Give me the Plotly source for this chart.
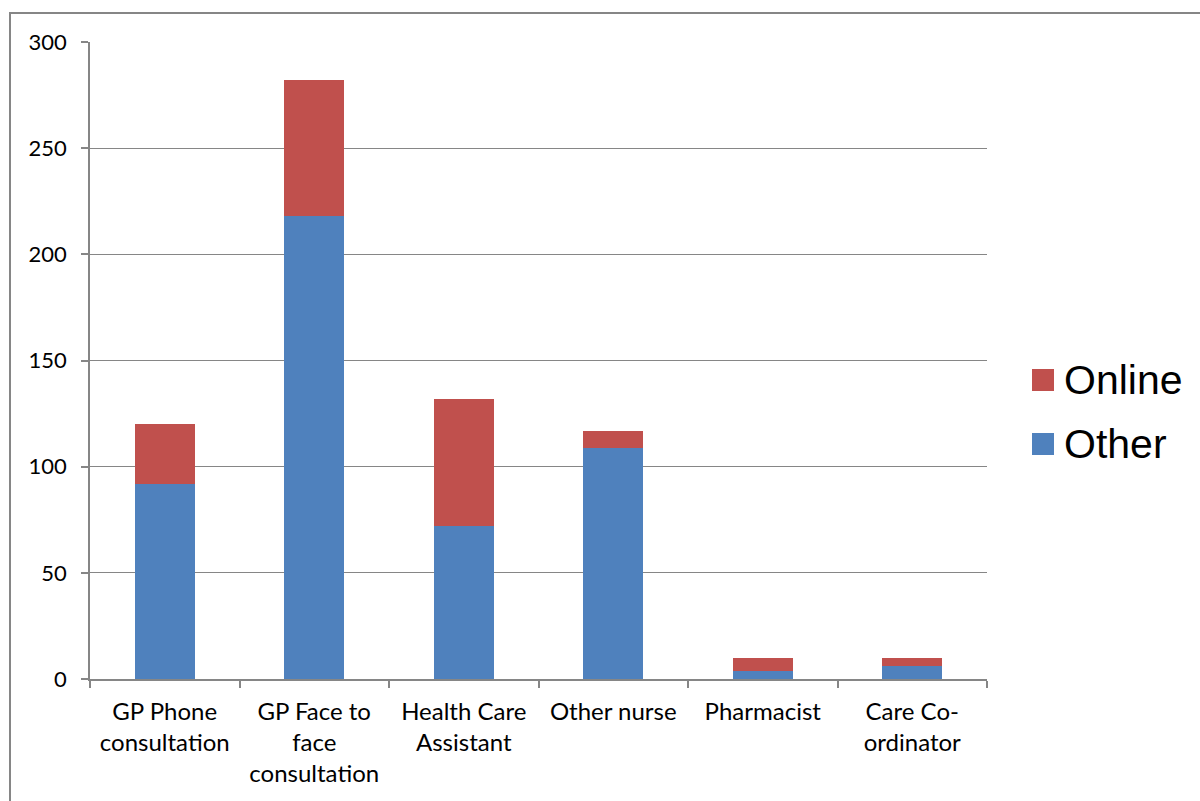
import plotly.graph_objects as go

categories = [
    "GP Phone<br>consultation",
    "GP Face to<br>face<br>consultation",
    "Health Care<br>Assistant",
    "Other nurse",
    "Pharmacist",
    "Care Co-<br>ordinator",
]
other_values = [92, 218, 72, 109, 4, 6]
online_values = [28, 64, 60, 8, 6, 4]
y_ticks = [0, 50, 100, 150, 200, 250, 300]

GRID = "#868686"
BLUE = "#4F81BD"
RED = "#C0504D"

W, H = 1200, 801
L, R, T, B = 90, 213, 42, 122
PW, PH = W - L - R, H - T - B


def px_x(x):
    return (x - L) / PW


def px_y(y):
    return (H - B - y) / PH


fig = go.Figure()
fig.add_trace(go.Bar(x=categories, y=other_values, name="Other",
                     marker=dict(color=BLUE, line=dict(width=0)),
                     showlegend=False))
fig.add_trace(go.Bar(x=categories, y=online_values, name="Online",
                     marker=dict(color=RED, line=dict(width=0)),
                     showlegend=False))

# legend drawn as shapes + text so the key squares can be large
legend_items = [("Online", RED, 380), ("Other", BLUE, 444)]
shapes = [dict(
    type="rect", xref="paper", yref="paper",
    x0=px_x(10), x1=px_x(1230), y0=px_y(830), y1=px_y(13),
    line=dict(color=GRID, width=2), fillcolor="rgba(0,0,0,0)",
    layer="below",
)]
annotations = []
for name, color, yc in legend_items:
    shapes.append(dict(
        type="rect", xref="paper", yref="paper",
        x0=px_x(1032), x1=px_x(1054), y0=px_y(yc + 11), y1=px_y(yc - 11),
        line=dict(width=0), fillcolor=color,
    ))
    annotations.append(dict(
        xref="paper", yref="paper", x=px_x(1062), y=px_y(yc),
        xanchor="left", yanchor="middle", showarrow=False, text=name,
        font=dict(family="Liberation Sans, Arial, sans-serif", size=41, color="#000"),
    ))

fig.update_layout(
    barmode="stack",
    bargap=0.6,
    width=W, height=H,
    margin=dict(l=L, r=R, t=T, b=B),
    paper_bgcolor="white",
    plot_bgcolor="white",
    font=dict(family="Lato, Open Sans, sans-serif", size=24, color="#000000"),
    showlegend=False,
    xaxis=dict(
        type="category",
        showline=True, linecolor=GRID, linewidth=1.5,
        ticks="outside", tickson="boundaries", ticklen=7, tickcolor=GRID,
        tickwidth=1.5,
        showgrid=False,
        ticklabelstandoff=10,
        tickfont=dict(size=24),
    ),
    yaxis=dict(
        range=[0, 300],
        tickvals=y_ticks,
        showline=True, linecolor=GRID, linewidth=1.5,
        ticks="outside", ticklen=7, tickcolor=GRID, tickwidth=1.5,
        showgrid=True, gridcolor=GRID, gridwidth=1.3,
        zeroline=False,
        ticklabelstandoff=10,
        tickfont=dict(size=22),
    ),
    shapes=shapes,
    annotations=annotations,
)

fig.write_html("out.html")
